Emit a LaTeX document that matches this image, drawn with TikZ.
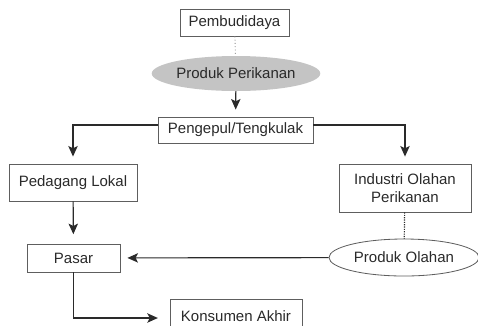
\documentclass[tikz,border=0pt]{standalone}
\usepackage{fontspec}
\setmainfont{Liberation Sans}
\usepackage{tikz}
\usetikzlibrary{
    shapes,
    shapes.geometric,
    positioning,
    calc,
    arrows.meta
}
\definecolor{ink}{HTML}{2A2A2A}
\definecolor{frame}{HTML}{5E5E5E}
\definecolor{shade}{HTML}{C4C4C4}
\tikzset{
  basic/.style = {
      font=\fontsize{12.8}{15.4}\selectfont,
      text=ink,
      align=center,
      inner sep=0pt
  },
  box/.style = {
      basic,
      draw=frame,
      line width=0.7pt,
      rectangle,
      fill=white
  },
  oval/.style = {
      basic,
      ellipse,
      draw=frame,
      line width=0.7pt,
      fill=white
  },
  greyoval/.style = {
      basic,
      ellipse,
      fill=shade
  },
  flow/.style = {
      draw=ink,
      line width=1pt,
      -{Stealth[length=9pt,width=8pt,inset=2pt]},
      shorten >=6pt
  },
  link/.style = {
      draw=frame!70,
      line width=0.8pt,
      dotted
  },
  darklink/.style = {
      draw=ink,
      line width=1pt,
      densely dotted
  }
}

\begin{document}
\begin{tikzpicture}[x=0.03cm, y=-0.03cm]
    \useasboundingbox (0,0) rectangle (478,325);
    \node[box, minimum width=3.27cm, minimum height=0.81cm] (PB) at (234.5,22.5) {Pembudidaya};
    \node[greyoval, minimum width=4.68cm, minimum height=1.05cm] (PP) at (236,73.5) {Produk Perikanan};
    \node[box, minimum width=4.65cm, minimum height=0.78cm] (PT) at (235.5,130) {Pengepul/Tengkulak};
    \node[box, minimum width=3.84cm, minimum height=1.11cm] (PL) at (73,182.5) {Pedagang Lokal};
    \node[box, minimum width=3.96cm, minimum height=1.44cm] (IO) at (405,188) {Industri Olahan\\Perikanan};
    \node[oval, minimum width=4.5cm, minimum height=1.11cm] (PO) at (404,257.5) {Produk Olahan};
    \node[box, minimum width=2.79cm, minimum height=0.84cm] (PS) at (73.5,258) {Pasar};
    \node[box, minimum width=3.96cm, minimum height=1.0cm] (KA) at (236,316.5) {Konsumen Akhir};
    % Edges
    \draw[link] (PB) -- (PP);
    \draw[darklink] (IO) -- (PO);
    \draw[flow] (PP) -- (PT);
    \draw[flow] ([yshift=0.15cm]PT.west) -| (PL.north);
    \draw[flow] ([yshift=0.15cm]PT.east) -| (IO.north);
    \draw[flow, shorten >=8pt] (PL) -- (PS);
    \draw[flow] (PO) -- (PS);
    \draw[flow, shorten >=10pt] (PS.south) |- (KA.west |- 0,318);
\end{tikzpicture}
\end{document}
